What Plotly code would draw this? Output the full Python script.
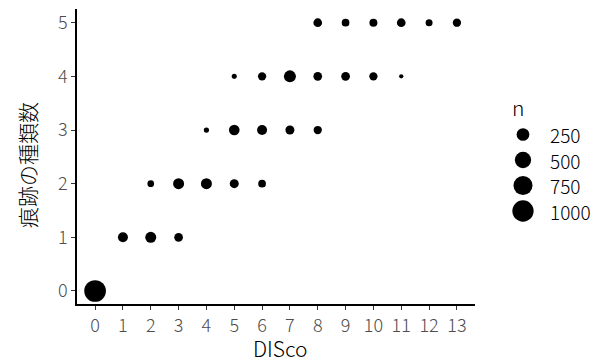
import numpy as np
import plotly.graph_objects as go

# data: (DISco, number of trace types, n)
disco = [0, 1, 2, 3, 2, 3, 4, 5, 6, 4, 5, 6, 7, 8, 5, 6, 7, 8, 9, 10, 11, 8, 9, 10, 11, 12, 13]
kinds = [0, 1, 1, 1, 2, 2, 2, 2, 2, 3, 3, 3, 3, 3, 4, 4, 4, 4, 4, 4, 4, 5, 5, 5, 5, 5, 5]
n_val = [1050, 116, 159, 71, 24, 159, 159, 80, 44, 7, 145, 116, 80, 59, 6, 59, 209, 71, 71, 59, 4, 71, 44, 51, 71, 29, 59]

legend_breaks = [250, 500, 750, 1000]
x_ticks = list(range(0, 14))
y_ticks = list(range(0, 6))

nmin, nmax = min(n_val), max(n_val)
D_MIN, D_SPAN = 4.3, 17.4


def size_of(n):
    n = np.asarray(n, dtype=float)
    return D_MIN + D_SPAN * np.sqrt(np.clip((n - nmin) / (nmax - nmin), 0, 1))


W, H = 606, 363
fig = go.Figure()
fig.add_trace(go.Scatter(
    x=disco, y=kinds, mode="markers",
    marker=dict(size=size_of(n_val), sizemode="diameter", color="#000000",
                opacity=1, line=dict(width=0)),
    showlegend=False, xaxis="x", yaxis="y", hoverinfo="skip"))

# size legend drawn on an auxiliary axis
fig.add_trace(go.Scatter(
    x=[0.315] * len(legend_breaks), y=list(range(len(legend_breaks))), mode="markers",
    marker=dict(size=size_of(legend_breaks), sizemode="diameter", color="#000000",
                opacity=1, line=dict(width=0)),
    showlegend=False, xaxis="x2", yaxis="y2", hoverinfo="skip"))

font_fam = "Noto Sans CJK JP, Noto Sans, sans-serif"
LW = 300
annotations = []
for i, b in enumerate(legend_breaks):
    annotations.append(dict(x=0.52, y=i, xref="x2", yref="y2", text=str(b),
                            showarrow=False, xanchor="left", yanchor="middle",
                            font=dict(size=19, color="black", family=font_fam, weight=LW)))
annotations.append(dict(x=510 / W, y=1 - 107 / H, xref="paper", yref="paper", text="n",
                        showarrow=False, xanchor="left", yanchor="middle",
                        font=dict(size=21, color="black", family=font_fam, weight=LW)))
annotations.append(dict(x=280 / W, y=1 - 348 / H, xref="paper", yref="paper", text="DISco",
                        showarrow=False, xanchor="center", yanchor="middle",
                        font=dict(size=21, color="black", family=font_fam, weight=LW)))
annotations.append(dict(x=27 / W, y=1 - 165 / H, xref="paper", yref="paper", text="痕跡の種類数",
                        showarrow=False, xanchor="center", yanchor="middle", textangle=-90,
                        font=dict(size=21, color="black", family=font_fam, weight=LW)))

xd0, xd1 = 77 / W, 475 / W
yd0, yd1 = (H - 304.4) / H, (H - 9.3) / H

fig.update_layout(
    width=W, height=H, margin=dict(l=0, r=0, t=0, b=0),
    paper_bgcolor="white", plot_bgcolor="white",
    font=dict(family=font_fam),
    xaxis=dict(domain=[xd0, xd1], range=[-0.65, 13.65], tickmode="array",
               tickvals=x_ticks, ticktext=[str(v) for v in x_ticks],
               showgrid=False, zeroline=False, showline=True, linecolor="black",
               linewidth=1.5, ticks="outside", ticklen=4, tickcolor="#333333",
               tickwidth=1, tickfont=dict(size=18, color="#4D4D4D", weight=LW), anchor="y"),
    yaxis=dict(domain=[yd0, yd1], range=[-0.25, 5.25], tickmode="array",
               tickvals=y_ticks, ticktext=[str(v) for v in y_ticks],
               showgrid=False, zeroline=False, showline=True, linecolor="black",
               linewidth=1.5, ticks="outside", ticklen=4, tickcolor="#333333",
               tickwidth=1, tickfont=dict(size=18, color="#4D4D4D", weight=LW), anchor="x"),
    xaxis2=dict(domain=[0.8, 1.0], range=[0, 1], visible=False, anchor="y2",
                fixedrange=True),
    yaxis2=dict(domain=[(H - 223.75) / H, (H - 121.75) / H], range=[3.5, -0.5],
                visible=False, anchor="x2", fixedrange=True),
    annotations=annotations,
)

fig.write_html("out.html", config={"displayModeBar": False},
               post_script="document.body.style.margin='0';document.body.style.overflow='hidden';")
